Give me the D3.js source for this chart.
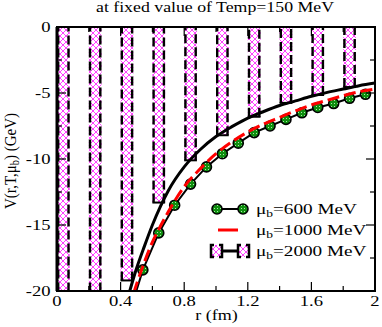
<!DOCTYPE html>
<html><head><meta charset="utf-8">
<script src="https://cdn.jsdelivr.net/npm/d3@7"></script>
<style>body{margin:0;background:#fff}svg{display:block}text{font-family:"Liberation Serif","DejaVu Serif",serif}</style>
</head><body><svg id="c" width="382" height="327"></svg>
<script>
// ---------- data ----------
const titleText = "at fixed value of Temp=150 MeV";
const xTickValues = [0, 0.4, 0.8, 1.2, 1.6, 2];
const xTickLabels = ["0", "0.4", "0.8", "1.2", "1.6", "2"];
const xMinorTicks = [0.2, 0.6, 1.0, 1.4, 1.8];
const yTickValues = [0, -5, -10, -15, -20];
const yTickLabels = ["0", "-5", "-10", "-15", "-20"];
const yMinorTicks = [-2.5, -7.5, -12.5, -17.5];

// mu_b = 600 MeV (green symbols)
const r600 = [0.44, 0.54, 0.64, 0.74, 0.84, 0.94, 1.04, 1.14, 1.24, 1.34, 1.44, 1.54, 1.64, 1.74, 1.84, 1.94];
const v600 = [-22.3, -18.4, -15.6, -13.5, -11.9, -10.6, -9.6, -8.8, -8.0, -7.5, -7.0, -6.5, -6.1, -5.8, -5.4, -5.1];

// mu_b = 1000 MeV (red dashed)
const r1000 = [0.45, 0.5, 0.55, 0.6, 0.65, 0.7, 0.8, 0.9, 1.0, 1.1, 1.2, 1.3, 1.4, 1.5, 1.6, 1.7, 1.8, 1.9, 2.0];
const v1000 = [-21.4, -19.5, -17.8, -16.3, -15.1, -14.0, -12.1, -10.75, -9.6, -8.7, -7.95, -7.35, -6.85, -6.35, -5.9, -5.55, -5.2, -4.9, -4.7];

// mu_b = 2000 MeV (black line + hatched bars)
const r2000 = [0.42, 0.45, 0.5, 0.55, 0.6, 0.65, 0.7, 0.8, 0.9, 1.0, 1.1, 1.2, 1.3, 1.4, 1.5, 1.6, 1.7, 1.8, 1.9, 2.0];
const v2000 = [-21.5, -20.3, -18.3, -16.6, -15.0, -13.6, -12.4, -10.6, -9.3, -8.3, -7.55, -6.9, -6.4, -5.95, -5.6, -5.25, -4.95, -4.7, -4.45, -4.25];
const barStart = [0, 0.2, 0.4, 0.6, 0.8, 1.0, 1.2, 1.4, 1.6, 1.8, 2.0];
const barBottom = [-22, -22, -19.2, -13.3, -10.1, -8.2, -6.8, -5.75, -5.15, -4.55, -4.2];
const barSpan = 0.08;

const legendLabels = ["=600 MeV", "=1000 MeV", "=2000 MeV"];

// ---------- layout ----------
const svg = d3.select("#c");
const x = d3.scaleLinear().domain([0, 2]).range([57, 375]);
const y = d3.scaleLinear().domain([0, -20]).range([27, 291]);

const defs = svg.append("defs");
const hatch = defs.append("pattern").attr("id", "hatch").attr("patternUnits", "userSpaceOnUse")
  .attr("width", 6).attr("height", 6);
hatch.append("rect").attr("width", 6).attr("height", 6).attr("fill", "#fff");
hatch.append("path").attr("d", "M0,0L6,6M6,0L0,6")
  .attr("stroke", "#ff40ff").attr("stroke-width", 1);
const gp = defs.append("pattern").attr("id", "greenp").attr("patternUnits", "userSpaceOnUse")
  .attr("width", 3).attr("height", 3);
gp.append("rect").attr("width", 3).attr("height", 3).attr("fill", "#0f8f0f");
gp.append("rect").attr("x", 1).attr("y", 1).attr("width", 1).attr("height", 1).attr("fill", "#a8e8a8");

defs.append("clipPath").attr("id", "clip").append("rect")
  .attr("x", x(0)).attr("y", y(0)).attr("width", x(2) - x(0)).attr("height", y(-20) - y(0));

const plot = svg.append("g").attr("clip-path", "url(#clip)");

// 600 MeV
const line = d3.line().x(d => x(d[0])).y(d => y(d[1]));
const d600 = r600.map((r, i) => [r, v600[i]]);
plot.append("path").attr("d", line(d600)).attr("fill", "none").attr("stroke", "#000").attr("stroke-width", 2);
plot.selectAll("circle.g").data(d600).enter().append("circle")
  .attr("cx", d => x(d[0])).attr("cy", d => y(d[1])).attr("r", 5)
  .attr("fill", "url(#greenp)").attr("stroke", "#000").attr("stroke-width", 1.6);

// 1000 MeV
const d1000 = r1000.map((r, i) => [r, v1000[i]]);
plot.append("path").attr("d", d3.line().curve(d3.curveMonotoneX).x(d => x(d[0])).y(d => y(d[1]))(d1000))
  .attr("fill", "none").attr("stroke", "#ff0000").attr("stroke-width", 3).attr("stroke-dasharray", "12,5");

// 2000 MeV bars
barStart.forEach((s, i) => {
  const x0 = x(s), x1 = x(s + barSpan), yb = y(barBottom[i]), yt = y(0) - 5;
  plot.append("rect").attr("x", x0).attr("y", yt).attr("width", x1 - x0).attr("height", yb - yt)
    .attr("fill", "url(#hatch)");
  [x0 + 1.2, x1 - 1.2].forEach(xx => plot.append("line").attr("x1", xx).attr("x2", xx)
    .attr("y1", yb).attr("y2", yt).attr("stroke", "#000").attr("stroke-width", 2.4)
    .attr("stroke-dasharray", "9,4"));
  plot.append("line").attr("x1", x0).attr("x2", x1).attr("y1", yb).attr("y2", yb)
    .attr("stroke", "#000").attr("stroke-width", 2);
});
const d2000 = r2000.map((r, i) => [r, v2000[i]]);
plot.append("path").attr("d", d3.line().curve(d3.curveMonotoneX).x(d => x(d[0])).y(d => y(d[1]))(d2000))
  .attr("fill", "none").attr("stroke", "#000").attr("stroke-width", 3);

// ---------- frame & ticks ----------
svg.append("rect").attr("x", x(0)).attr("y", y(0)).attr("width", x(2) - x(0)).attr("height", y(-20) - y(0))
  .attr("fill", "none").attr("stroke", "#000").attr("stroke-width", 2);
svg.append("line").attr("x1", x(0)).attr("x2", x(0)).attr("y1", y(0)).attr("y2", y(-20))
  .attr("stroke", "#000").attr("stroke-width", 3);
const tk = svg.append("g").attr("stroke", "#000").attr("stroke-width", 1.2);
function xt(v, len) {
  tk.append("line").attr("x1", x(v)).attr("x2", x(v)).attr("y1", y(-20)).attr("y2", y(-20) - len);
  tk.append("line").attr("x1", x(v)).attr("x2", x(v)).attr("y1", y(0)).attr("y2", y(0) + len);
}
function yt(v, len) {
  tk.append("line").attr("y1", y(v)).attr("y2", y(v)).attr("x1", x(0)).attr("x2", x(0) + len);
  tk.append("line").attr("y1", y(v)).attr("y2", y(v)).attr("x1", x(2)).attr("x2", x(2) - len);
}
xTickValues.forEach(v => xt(v, 9)); xMinorTicks.forEach(v => xt(v, 5));
yTickValues.forEach(v => yt(v, 9)); yMinorTicks.forEach(v => yt(v, 5));

function stext(px, py, str, anchor, size, sx) {
  return svg.append("text").attr("transform", `translate(${px},${py}) scale(${sx},1)`)
    .attr("text-anchor", anchor).attr("font-size", size).attr("fill", "#000").text(str);
}
xTickValues.forEach((v, i) => stext(x(v), 306, xTickLabels[i], "middle", 15.5, 1.2));
yTickValues.forEach((v, i) => stext(50.5, y(v) + 5, yTickLabels[i], "end", 15.5, 1.2));
stext(215, 12, titleText, "middle", 14, 1.27);
stext(216.5, 320, "r (fm)", "middle", 15, 1.2);

// y-axis title
const yl = svg.append("text").attr("transform", "translate(16,161) rotate(-90) scale(1,1.1)")
  .attr("text-anchor", "middle").attr("font-size", 15);
yl.append("tspan").text("V(r,T,μ");
yl.append("tspan").attr("font-size", 10.5).attr("dy", 3).text("b");
yl.append("tspan").attr("dy", -3).text(") (GeV)");

// ---------- legend ----------
const lg = svg.append("g");
const rowsY = [209, 230, 251];
lg.append("line").attr("x1", 217).attr("x2", 243).attr("y1", rowsY[0]).attr("y2", rowsY[0]).attr("stroke", "#000").attr("stroke-width", 2);
[217, 243].forEach(cx => lg.append("circle").attr("cx", cx).attr("cy", rowsY[0]).attr("r", 5)
  .attr("fill", "url(#greenp)").attr("stroke", "#000").attr("stroke-width", 1.6));
lg.append("line").attr("x1", 218).attr("x2", 238).attr("y1", rowsY[1]).attr("y2", rowsY[1]).attr("stroke", "#ff0000").attr("stroke-width", 3);
lg.append("line").attr("x1", 216).attr("x2", 244).attr("y1", rowsY[2]).attr("y2", rowsY[2]).attr("stroke", "#000").attr("stroke-width", 3);
[[211, 222], [238, 249]].forEach(([a, b]) => {
  lg.append("rect").attr("x", a).attr("y", rowsY[2] - 6).attr("width", b - a).attr("height", 12).attr("fill", "url(#hatch)");
  lg.append("path").attr("d", `M${a + 3},${rowsY[2] - 6}H${a}V${rowsY[2] + 6}H${a + 3}M${b - 3},${rowsY[2] - 6}H${b}V${rowsY[2] + 6}H${b - 3}`)
    .attr("fill", "none").attr("stroke", "#000").attr("stroke-width", 2.5);
});
legendLabels.forEach((t, i) => {
  const tx = lg.append("text").attr("transform", `translate(256,${rowsY[i] + 4.5}) scale(1.28,1)`)
    .attr("font-size", 15);
  tx.append("tspan").text("μ");
  tx.append("tspan").attr("font-size", 10.5).attr("dy", 3).text("b");
  tx.append("tspan").attr("dy", -3).text(t);
});
</script></body></html>
